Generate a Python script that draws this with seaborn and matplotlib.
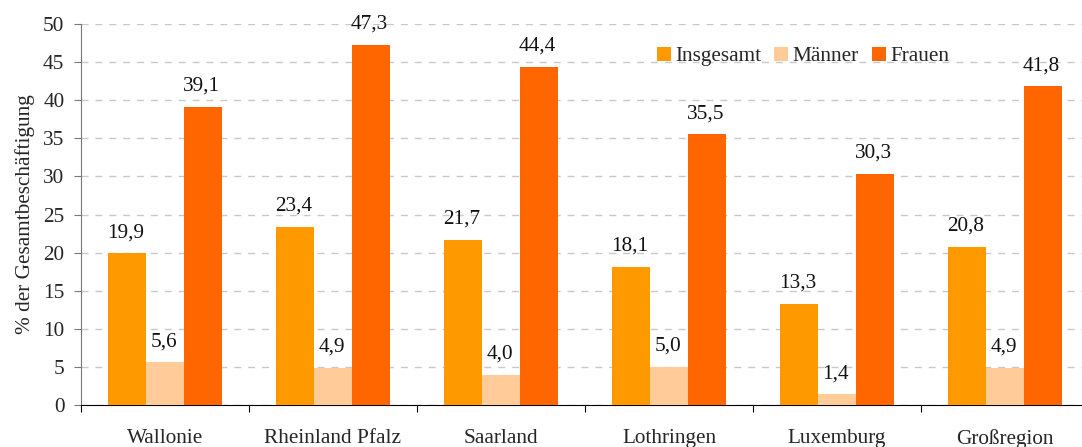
import numpy as np
import pandas as pd
import matplotlib
matplotlib.use("Agg")
import matplotlib.pyplot as plt
import seaborn as sns

regionen = ["Wallonie", "Rheinland Pfalz", "Saarland", "Lothringen", "Luxemburg", "Großregion"]
insgesamt = [19.9, 23.4, 21.7, 18.1, 13.3, 20.8]
maenner = [5.6, 4.9, 4.0, 5.0, 1.4, 4.9]
frauen = [39.1, 47.3, 44.4, 35.5, 30.3, 41.8]
serien = ["Insgesamt", "Männer", "Frauen"]
farben = ["#FF9900", "#FFCC99", "#FF6600"]

df = pd.DataFrame({
    "Region": regionen * 3,
    "Gruppe": [s for s in serien for _ in regionen],
    "Wert": insgesamt + maenner + frauen,
})

sns.set_style("white")
plt.rcParams["font.family"] = ["Liberation Serif", "DejaVu Serif"]
fs = 15.3

fig = plt.figure(figsize=(10.82, 4.47), dpi=100)
ax = fig.add_axes([81 / 1082, 42 / 447, 1008 / 1082, 381 / 447])

sns.barplot(data=df, x="Region", y="Wert", hue="Gruppe", order=regionen,
            hue_order=serien, palette=farben, width=0.675, saturation=1,
            errorbar=None, ax=ax, zorder=3, linewidth=0, edgecolor="none")

# value labels with decimal comma
for cont in ax.containers:
    for bar in cont:
        h = bar.get_height()
        ax.annotate(f"{h:.1f}".replace(".", ","),
                    (bar.get_x() + bar.get_width() / 2, h),
                    xytext=(-1, 8), textcoords="offset points",
                    ha="center", va="bottom", fontsize=fs, color="#111111")

ax.set_ylim(0, 50)
ax.set_yticks(np.arange(0, 51, 5))
ax.set_xlim(-0.5, 5.5)
ax.yaxis.grid(True, linestyle=(0, (5, 5)), color="#c8c8c8", linewidth=1, zorder=0)
ax.set_axisbelow(True)

# group separators as major ticks, names as minor ticks
ax.set_xticks(np.arange(-0.5, 6.0, 1.0))
ax.set_xticklabels([])
ax.set_xticks(np.arange(6), minor=True)
ax.set_xticklabels(regionen, minor=True, fontsize=fs)
ax.tick_params(axis="x", which="major", length=5, color="black", direction="out", bottom=True)
ax.tick_params(axis="x", which="minor", length=0, pad=17)
ax.tick_params(axis="y", length=5, color="#777777", direction="out", left=True,
               labelsize=fs, pad=7)

ax.set_xlabel("")
ax.set_ylabel("% der Gesamtbeschäftigung", fontsize=fs, labelpad=6)

for s in ["top", "right"]:
    ax.spines[s].set_visible(False)
ax.spines["left"].set_color("#777777")
ax.spines["bottom"].set_color("black")

ax.legend(loc="upper left", bbox_to_anchor=(567 / 1008, 0.963), ncol=3, frameon=False,
          fontsize=fs, handlelength=0.66, handleheight=0.66, handletextpad=0.22,
          columnspacing=0.6, borderaxespad=0)

fig.savefig("out.png", dpi=100)
